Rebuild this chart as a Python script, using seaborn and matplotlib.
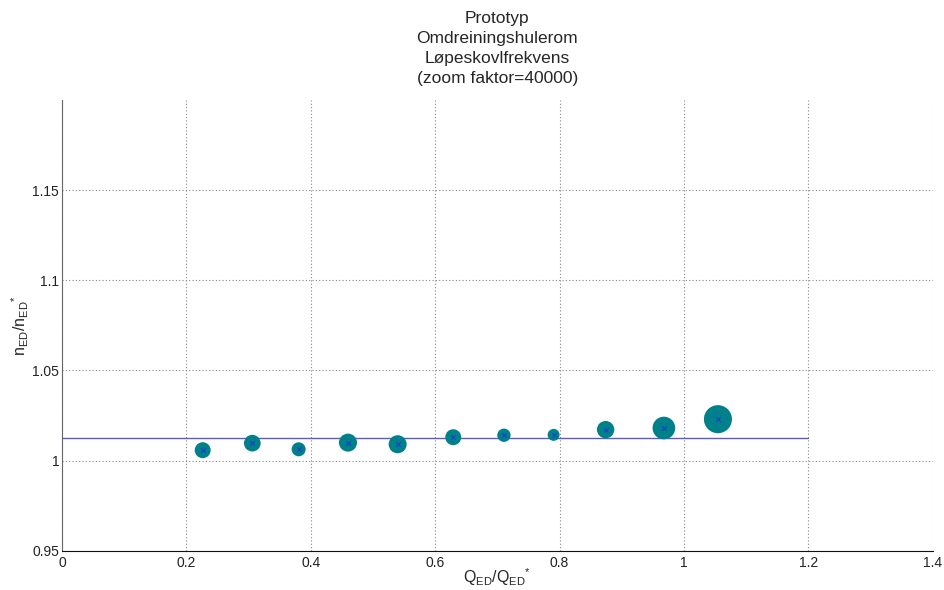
import matplotlib
matplotlib.use("Agg")
import matplotlib.pyplot as plt
import seaborn as sns
import pandas as pd

# Measured operating points (relative to best efficiency point)
q_rel = [0.2262, 0.3060, 0.3805, 0.4598, 0.5397, 0.6291, 0.7106, 0.7905, 0.8741, 0.9678, 1.0547]
n_rel = [1.0058, 1.0097, 1.0063, 1.0100, 1.0091, 1.0130, 1.0141, 1.0143, 1.0172, 1.0181, 1.0230]
# Pressure pulsation amplitude at runner blade frequency
amplitude = [0.00330, 0.00360, 0.00255, 0.00422, 0.00422, 0.00330, 0.00230, 0.00185, 0.00390, 0.00665, 0.01020]
ZOOM = 40000

# Reference speed level
n_ref = 1.0126
q_ref_span = [0.0, 1.2]

x_ticks = [0, 0.2, 0.4, 0.6, 0.8, 1.0, 1.2, 1.4]
x_tick_labels = ["0", "0.2", "0.4", "0.6", "0.8", "1", "1.2", "1.4"]
y_ticks = [0.95, 1.0, 1.05, 1.1, 1.15]
y_tick_labels = ["0.95", "1", "1.05", "1.1", "1.15"]

title_lines = ["Prototyp", "Omdreiningshulerom", "Løpeskovlfrekvens", "(zoom faktor=40000)"]

sns.set_style("white")
plt.rcParams["font.family"] = ["Liberation Sans", "DejaVu Sans"]
plt.rcParams["mathtext.fontset"] = "custom"
plt.rcParams["mathtext.rm"] = "Liberation Sans"
plt.rcParams["mathtext.it"] = "Liberation Sans"

df = pd.DataFrame({"q": q_rel, "n": n_rel, "amp": amplitude})

fig = plt.figure(figsize=(9.44, 5.90), dpi=100)
ax = fig.add_axes([0.0657, 0.0664, 0.9223, 0.7641])

amin, amax = min(amplitude), max(amplitude)
sns.scatterplot(data=df, x="q", y="n", size="amp",
                sizes=(amin * ZOOM, amax * ZOOM), size_norm=(amin, amax),
                color="#00808a", linewidth=0, legend=False, ax=ax, zorder=3)
sns.scatterplot(data=df, x="q", y="n", marker="x", color="#1f3fd0",
                s=10, linewidth=0.8, legend=False, ax=ax, zorder=4)
sns.lineplot(x=q_ref_span, y=[n_ref, n_ref], color="#5a5ac8", linewidth=1.0,
             ax=ax, zorder=2)

ax.set_xlim(0, 1.4)
ax.set_ylim(0.95, 1.2)
ax.set_xticks(x_ticks)
ax.set_xticklabels(x_tick_labels)
ax.set_yticks(y_ticks)
ax.set_yticklabels(y_tick_labels)
ax.tick_params(direction="in", length=5, width=0.8, labelsize=10, colors="#222222",
               pad=2)
ax.tick_params(axis="x", pad=4)

ax.grid(True, linestyle=(0, (1, 2)), color="#888888", linewidth=0.8)
ax.set_axisbelow(True)

for side in ("top", "right"):
    ax.spines[side].set_visible(False)
ax.spines["left"].set_color("#666666")
ax.spines["bottom"].set_color("#111111")
ax.spines["left"].set_linewidth(0.8)
ax.spines["bottom"].set_linewidth(0.8)

ax.set_xlabel(r"$\mathregular{Q_{ED}/Q_{ED}}^{*}$", fontsize=11.5, labelpad=-3)
ax.set_ylabel(r"$\mathregular{n_{ED}/n_{ED}}^{*}$", fontsize=11.5, labelpad=1)
ax.set_title("\n".join(title_lines), fontsize=12.5, linespacing=1.42, pad=12)

fig.savefig("out.png", dpi=100)
